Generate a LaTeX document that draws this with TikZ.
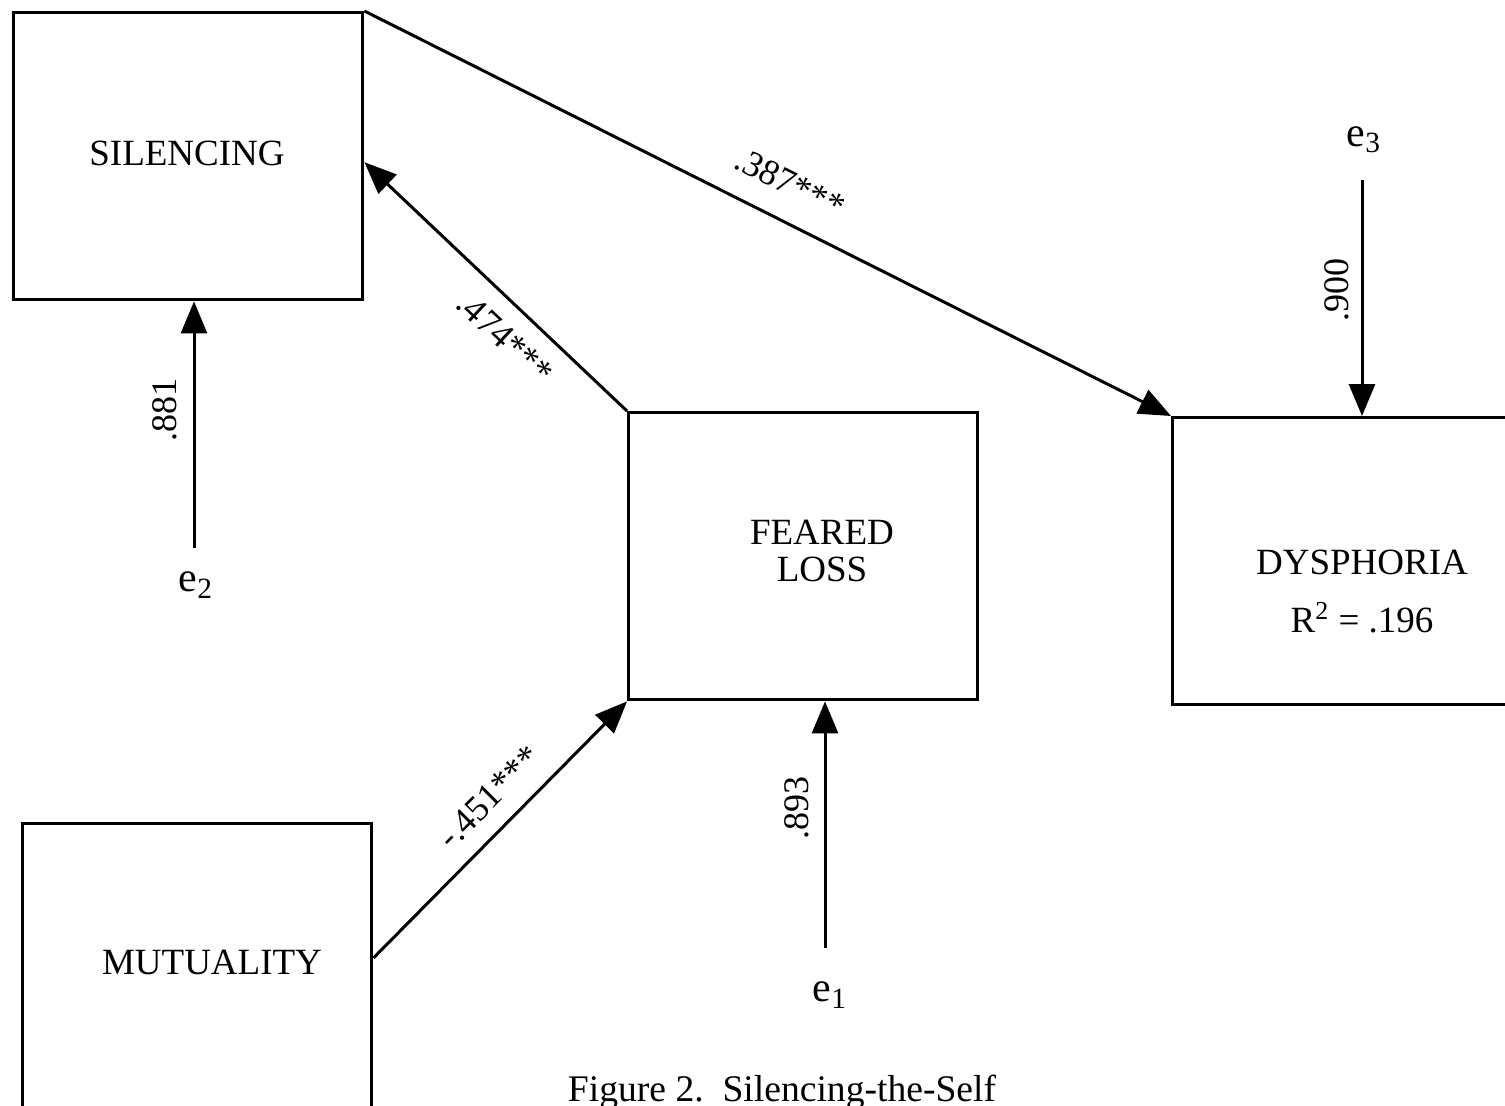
\documentclass[tikz,border=0pt]{standalone}
\usepackage{fontspec}
\setmainfont{Liberation Serif}
\usetikzlibrary{arrows.meta,calc}
\begin{document}
\begin{tikzpicture}[x=0.5pt,y=-0.5pt,
  box/.style={draw,line width=1.7pt,minimum width=174.5pt,minimum height=143.5pt,inner sep=0pt,anchor=north west},
  boxtext/.style={inner sep=0pt,align=center,font=\fontsize{18.5}{18.5}\selectfont},
  arr/.style={line width=1.5pt,-{Triangle[length=16pt,width=13pt]}},
  coef/.style={inner sep=0pt,font=\fontsize{18}{18}\selectfont},
  enode/.style={inner sep=0pt,font=\fontsize{21}{21}\selectfont},
  capt/.style={inner sep=0pt,font=\fontsize{18.8}{18.8}\selectfont}]
\useasboundingbox (0,0) rectangle (1505,1105);
\clip (0,0) rectangle (1505,1105);
% boxes
\node[box] (sil) at (12,11) {};
\node[box] (fear) at (627,411) {};
\node[box] (dys) at (1171,416) {};
\node[box] (mut) at (21,822) {};
% box texts
\node[boxtext] (silt) at (187,153) {SILENCING};
\node[boxtext,font=\fontsize{18.5}{18.5}\selectfont] (feart) at (822,551) {FEARED\\LOSS};
\node[boxtext,font=\fontsize{18.5}{29}\selectfont] (dyst) at (1362,591) {DYSPHORIA\\R\textsuperscript{2} = .196};
\node[boxtext] (mutt) at (212,962) {MUTUALITY};
% structural paths
\draw[arr] (sil.north east) -- (dys.north west);
\draw[arr] (fear.north west) -- ($(sil.east)+(0,6)$);
\draw[arr] ($(mut.north east)+(0,136)$) -- (fear.south west);
% errors
\node[enode] (e2) at (196,585) {e\textsubscript{2}};
\coordinate (e2s) at (194,548);
\draw[arr] (e2s) -- (e2s |- sil.south);
\node[enode] (e1) at (830,995) {e\textsubscript{1}};
\coordinate (e1s) at (825,948);
\draw[arr] (e1s) -- (e1s |- fear.south);
\node[enode] (e3) at (1364,140) {e\textsubscript{3}};
\coordinate (e3s) at (1362,180);
\draw[arr] (e3s) -- (e3s |- dys.north);
% coefficients
\node[coef,rotate=-26.5] (c387) at (790,183) {.387***};
\node[coef,rotate=-43] (c474) at (505,338) {.474***};
\node[coef,rotate=45] (c451) at (489,797) {-.451***};
\node[coef,rotate=90] (c881) at (165,410) {.881};
\node[coef,rotate=90] (c893) at (797,808) {.893};
\node[coef,rotate=90] (c900) at (1337,290) {.900};
% caption
\node[capt,anchor=base] (cap) at (782,1101) {Figure 2.\ \ Silencing-the-Self};
\end{tikzpicture}
\end{document}
